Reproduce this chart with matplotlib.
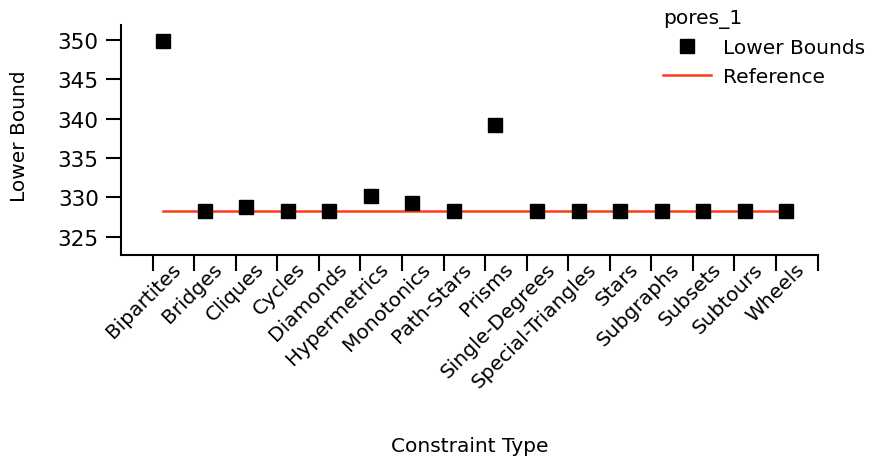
import numpy as np
import matplotlib
matplotlib.use("Agg")
from matplotlib import pyplot as plt

# category names along the x axis
categories = ["Bipartites", "Bridges", "Cliques", "Cycles", "Diamonds",
              "Hypermetrics", "Monotonics", "Path-Stars", "Prisms",
              "Single-Degrees", "Special-Triangles", "Stars", "Subgraphs",
              "Subsets", "Subtours", "Wheels"]

# lower bound per constraint type
lower_bounds = [349.9, 328.3, 328.75, 328.3, 328.3, 330.15, 329.3, 328.3,
                339.15, 328.3, 328.3, 328.3, 328.3, 328.3, 328.3, 328.3]

# reference value
reference = 328.3

y_ticks = [325, 330, 335, 340, 345, 350]

plt.rcParams['font.family'] = ['DejaVu Sans']

fig = plt.figure(figsize=(8.8, 4.64), dpi=100)
ax = fig.add_axes([0.1375, 0.449, 0.7920, 0.4956])

n = len(categories)
idx = np.arange(n)
# markers sit a quarter of the way into each category slot
xm = idx + 0.25

red = "#ff3a1a"
ax.plot(xm, lower_bounds, linestyle="none", marker="s", markersize=10,
        color="black", label="Lower Bounds", zorder=3)
ax.plot([xm[0], xm[-1]], [reference, reference], color=red, lw=1.8,
        label="Reference", zorder=2)

ax.set_xlim(-0.76, 16.01)
ax.set_ylim(322.7, 351.95)

# ticks on the category boundaries, labels near the category centres
ax.set_xticks(np.arange(n + 1))
ax.set_xticklabels([])
ax.set_xticks(idx + 0.45, minor=True)
ax.set_xticklabels(categories, minor=True, rotation=45, ha="right",
                   va="top", rotation_mode="anchor", fontsize=14.5)
ax.tick_params(axis="x", which="minor", length=0, pad=3)
ax.tick_params(axis="x", which="major", length=11.5, width=1.5)

ax.set_yticks(y_ticks)
ax.tick_params(axis="y", length=11, width=1.5, labelsize=15.5, pad=5)

for side in ("top", "right"):
    ax.spines[side].set_visible(False)
for side in ("left", "bottom"):
    ax.spines[side].set_linewidth(1.5)

ax.set_ylabel("Lower Bound", fontsize=14.5)
ax.yaxis.set_label_coords(-0.132, 0.52)
fig.text(0.534, 0.037, "Constraint Type", ha="center", va="center",
         fontsize=14.5)

leg = ax.legend(loc="upper left", bbox_to_anchor=(0.737, 1.012),
                bbox_transform=fig.transFigure, frameon=False,
                title="pores_1", alignment="left", fontsize=14.5,
                title_fontsize=14.5, handlelength=2.4, handletextpad=0.6,
                labelspacing=0.52, borderpad=0.2, markerscale=0.95)

fig.savefig("out.png", dpi=100)
